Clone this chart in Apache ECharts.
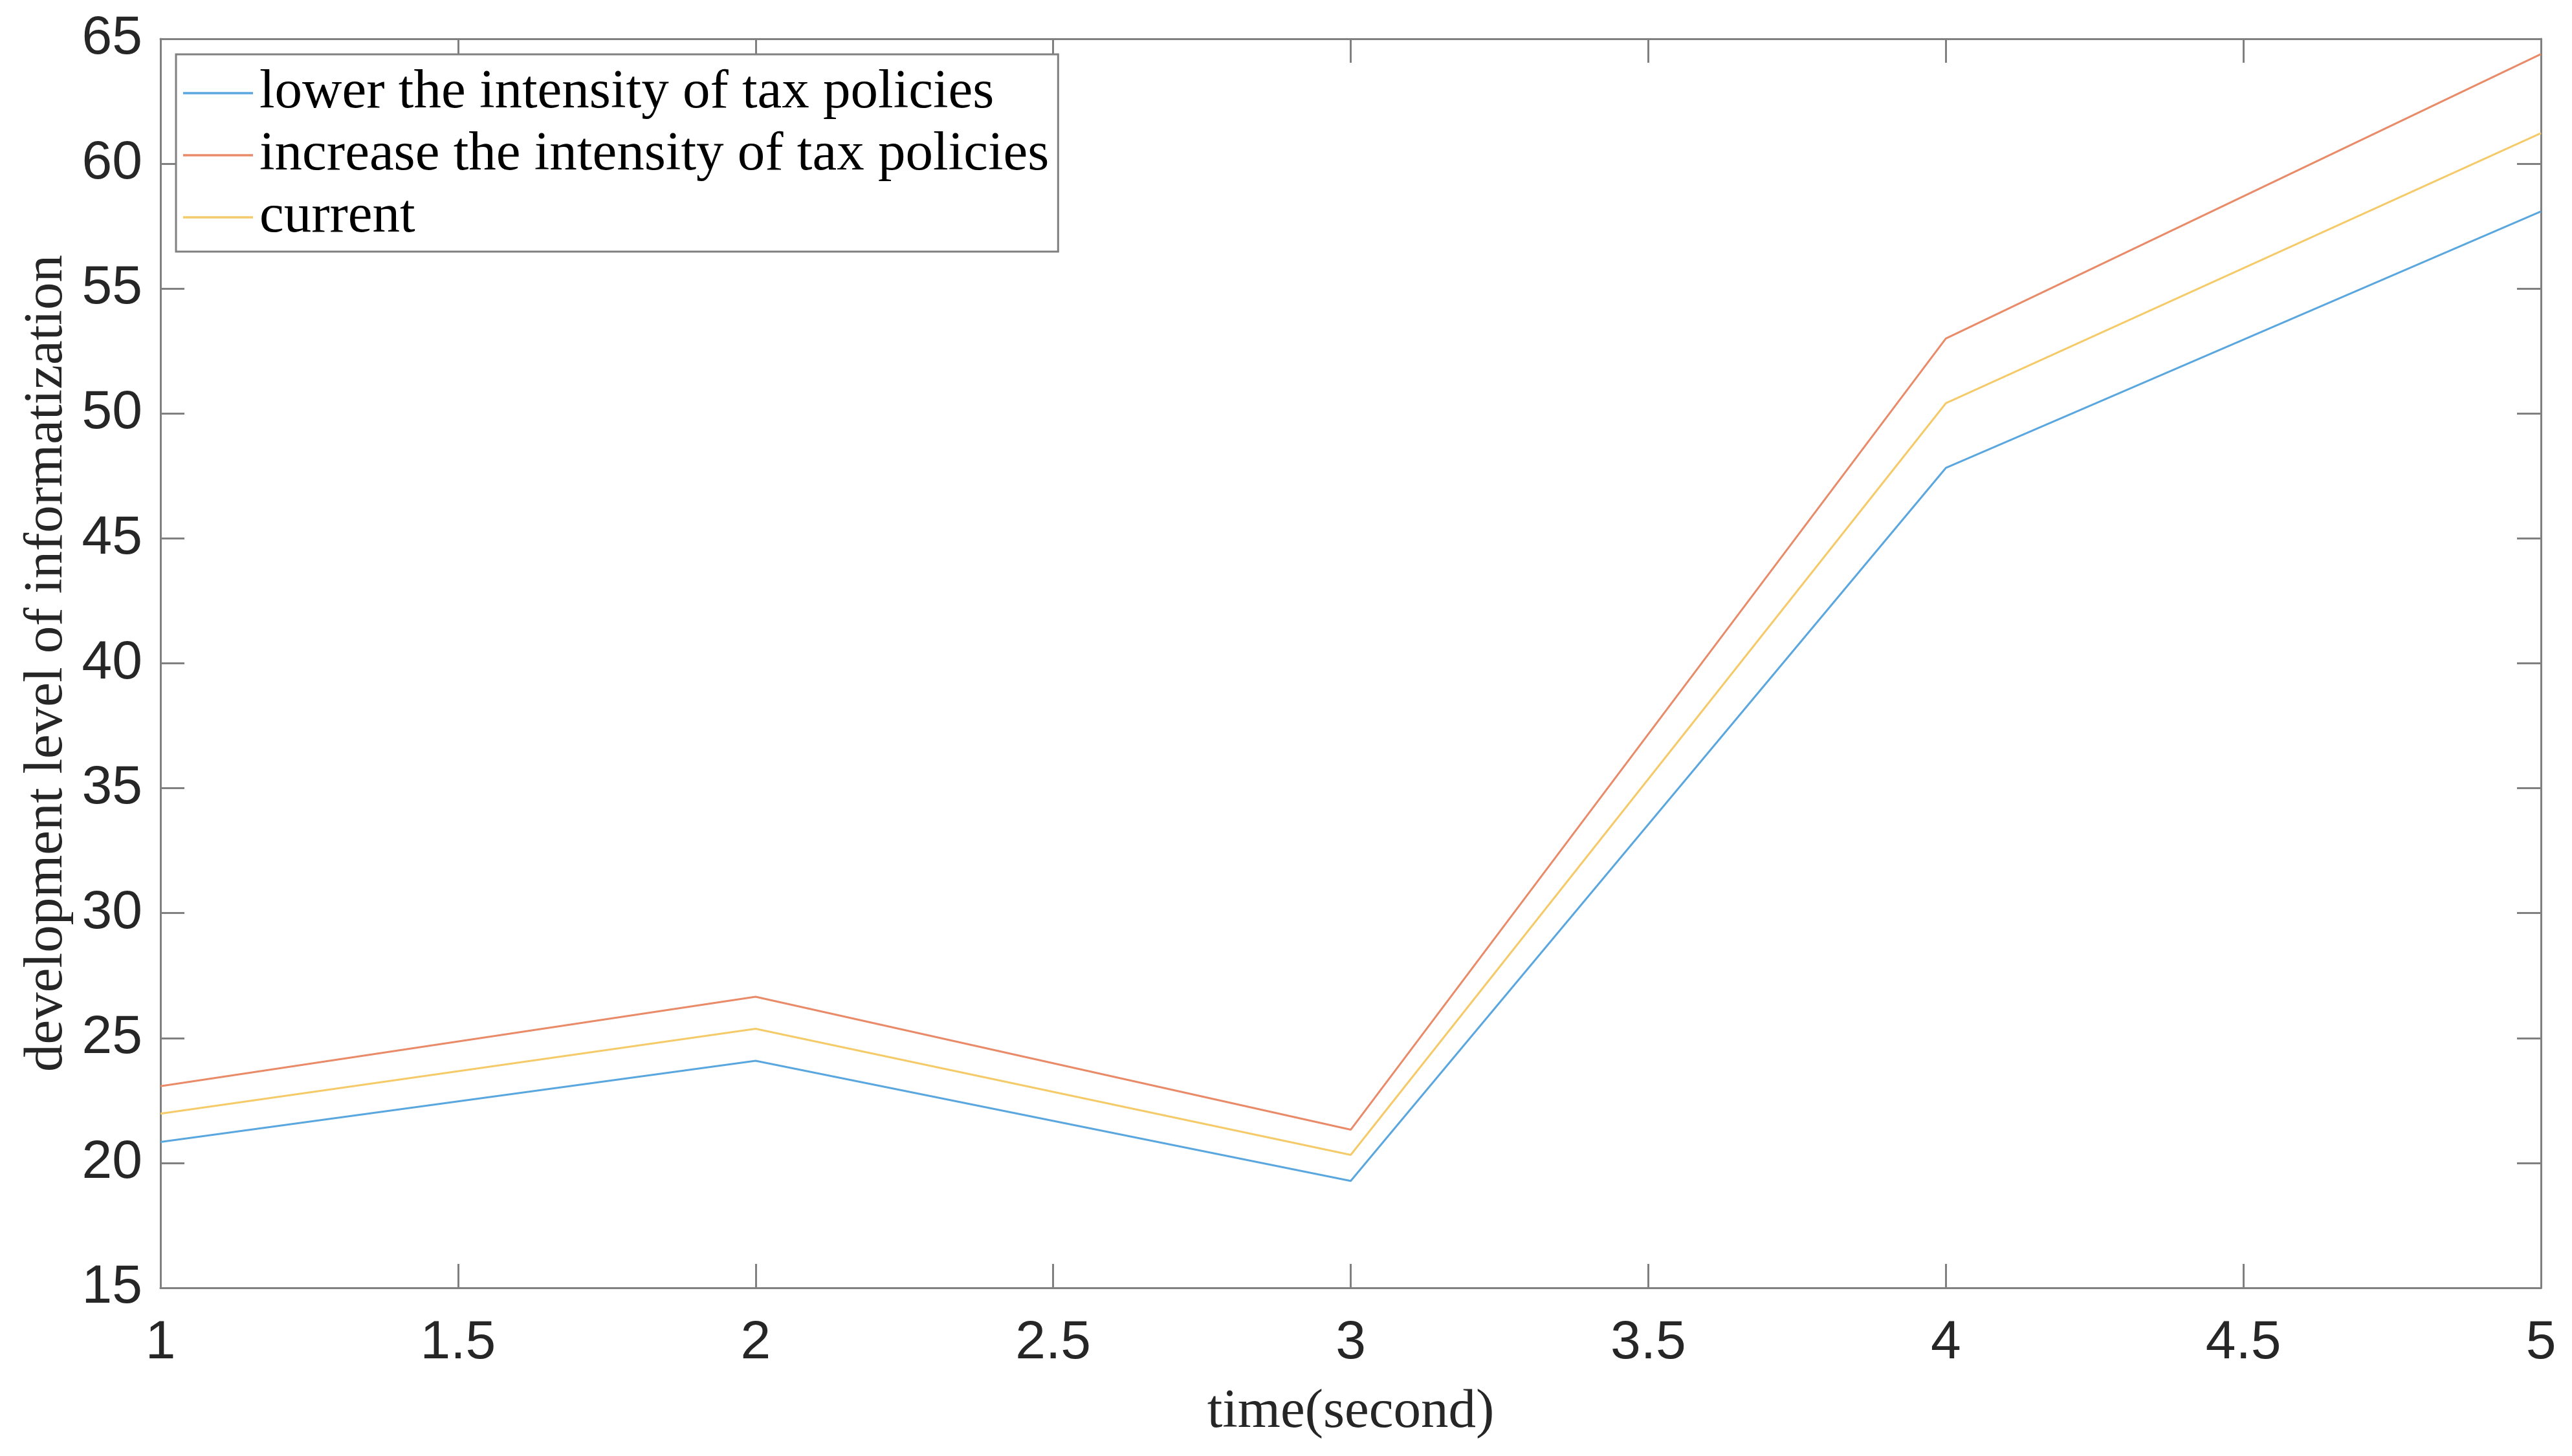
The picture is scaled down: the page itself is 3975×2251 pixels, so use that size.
<!DOCTYPE html>
<html>
<head>
<meta charset="utf-8">
<script src="https://cdn.jsdelivr.net/npm/echarts@6/dist/echarts.min.js"></script>
<style>
html,body{margin:0;padding:0;background:#fff;}
#chart{width:3975px;height:2251px;}
</style>
</head>
<body>
<div id="chart"></div>
<script>
const times = [1, 2, 3, 4, 5];
const lowerTax = [20.84, 24.09, 19.28, 47.82, 58.09];
const increaseTax = [23.07, 26.65, 21.33, 53.0, 64.39];
const currentTax = [21.97, 25.37, 20.32, 50.41, 61.22];
const seriesNames = ['lower the intensity of tax policies', 'increase the intensity of tax policies', 'current'];
const xTitle = 'time(second)';
const yTitle = 'development level of informatization';

const pair = (arr) => times.map((t, i) => [t, arr[i]]);

const axisColor = '#808080';
const labelColor = '#262626';
const serif = '"Liberation Serif", "Times New Roman", serif';
const sans = '"Liberation Sans", Arial, Helvetica, sans-serif';

const chart = echarts.init(document.getElementById('chart'), null, {renderer: 'canvas'});
const lineCommon = {type: 'line', symbol: 'none', showSymbol: false, xAxisIndex: 0, yAxisIndex: 0, animation: false};
chart.setOption({
  backgroundColor: '#ffffff',
  animation: false,
  grid: {left: 248, right: 48, top: 60, bottom: 260, containLabel: false},
  legend: {
    orient: 'vertical',
    left: 272, top: 84,
    data: seriesNames.map(n => ({name: n, icon: 'rect'})),
    itemWidth: 108, itemHeight: 3.5, itemGap: 10,
    padding: [17, 14, 10, 11],
    borderColor: axisColor, borderWidth: 3,
    backgroundColor: '#ffffff',
    textStyle: {fontFamily: serif, fontSize: 85, lineHeight: 86, color: '#000000', padding: [0, 0, 0, 5]}
  },
  xAxis: [
    {
      type: 'value', position: 'bottom', min: 1, max: 5, interval: 0.5,
      name: xTitle, nameLocation: 'middle', nameGap: 150,
      nameTextStyle: {fontFamily: serif, fontSize: 85, color: labelColor},
      axisLine: {show: true, lineStyle: {color: axisColor, width: 3}},
      axisTick: {show: true, inside: true, length: 37, lineStyle: {color: axisColor, width: 3}},
      axisLabel: {show: true, margin: 44, fontFamily: sans, fontSize: 84, color: labelColor},
      splitLine: {show: false}
    },
    {
      type: 'value', position: 'top', min: 1, max: 5, interval: 0.5,
      axisLine: {show: true, lineStyle: {color: axisColor, width: 3}},
      axisTick: {show: true, inside: true, length: 37, lineStyle: {color: axisColor, width: 3}},
      axisLabel: {show: false},
      splitLine: {show: false}
    }
  ],
  yAxis: [
    {
      type: 'value', position: 'left', min: 15, max: 65, interval: 5,
      name: yTitle, nameLocation: 'middle', nameGap: 125,
      nameTextStyle: {fontFamily: serif, fontSize: 85, color: labelColor},
      axisLine: {show: true, lineStyle: {color: axisColor, width: 3}},
      axisTick: {show: true, inside: true, length: 37, lineStyle: {color: axisColor, width: 3}},
      axisLabel: {show: true, margin: 28, fontFamily: sans, fontSize: 84, color: labelColor},
      splitLine: {show: false}
    },
    {
      type: 'value', position: 'right', min: 15, max: 65, interval: 5,
      axisLine: {show: true, lineStyle: {color: axisColor, width: 3}},
      axisTick: {show: true, inside: true, length: 37, lineStyle: {color: axisColor, width: 3}},
      axisLabel: {show: false},
      splitLine: {show: false}
    }
  ],
  series: [
    Object.assign({}, lineCommon, {name: seriesNames[0], data: pair(lowerTax), color: '#5AA7DF', lineStyle: {width: 3, color: '#5AA7DF'}}),
    Object.assign({}, lineCommon, {name: seriesNames[1], data: pair(increaseTax), color: '#E98A68', lineStyle: {width: 3, color: '#E98A68'}}),
    Object.assign({}, lineCommon, {name: seriesNames[2], data: pair(currentTax), color: '#F5CB6A', lineStyle: {width: 3, color: '#F5CB6A'}})
  ]
});
</script>
</body>
</html>
